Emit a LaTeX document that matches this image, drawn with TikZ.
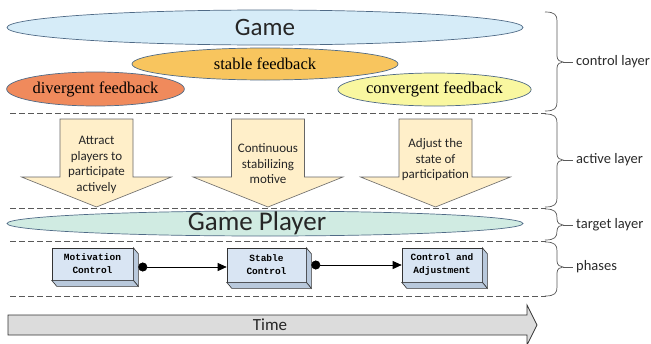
\documentclass[tikz,border=0pt]{standalone}
\usepackage{fontspec}
\setmainfont{Liberation Serif}
\newfontfamily\calfont{Carlito}
\newfontfamily\monofont{Liberation Mono}
\usetikzlibrary{shapes.geometric,arrows.meta,calc}
\definecolor{gameblue}{HTML}{D6ECF8}
\definecolor{stableor}{HTML}{F8C55E}
\definecolor{divor}{HTML}{F08A5C}
\definecolor{convy}{HTML}{F9F7A0}
\definecolor{arrowfill}{HTML}{FFEFC9}
\definecolor{playerg}{HTML}{D0EBE2}
\definecolor{boxfront}{HTML}{D9E5F3}
\definecolor{boxside}{HTML}{B9C9DC}
\definecolor{timegray}{HTML}{DCDCDC}
\definecolor{edgeblue}{HTML}{4F6A86}
\definecolor{labelgray}{HTML}{2A2A2A}
\tikzset{
  ell/.style={ellipse, draw=edgeblue, line width=0.7pt, inner sep=0pt},
  blockarrow/.style={draw=gray!80!black, fill=arrowfill, line width=0.6pt},
  arrowtext/.style={align=center, font=\calfont\fontsize{13}{15.5}\selectfont, text=black!85},
  sepline/.style={dashed, dash pattern=on 6pt off 3pt, draw=gray!70!black, line width=0.7pt},
  bracestyle/.style={draw=gray!70!black, line width=0.7pt},
  layerlabel/.style={anchor=west, font=\calfont\fontsize{14.5}{16}\selectfont, text=labelgray, inner sep=0pt},
  phasebox/.style={draw=black!80, fill=boxfront, line width=0.6pt, align=center, inner sep=0pt,
     font=\monofont\bfseries\fontsize{9.5}{13}\selectfont},
  boxdepth/.style={draw=black!80, fill=boxside, line width=0.6pt},
  conn/.style={line width=0.7pt, {Circle[length=9pt]}-{Triangle[length=9pt,width=8pt]}}
}
\begin{document}
\begin{tikzpicture}[x=1pt,y=-1pt]
\useasboundingbox (0,0) rectangle (651,343);
% control layer ellipses
\node[ell, fill=gameblue, minimum width=516pt, minimum height=35pt] (game) at (265,27.5) {};
\node[font=\calfont\fontsize{25}{28}\selectfont, text=black!85] (gamet) at (265,27) {Game};
\node[ell, fill=stableor, minimum width=266pt, minimum height=32pt,
      font=\fontsize{16.5}{18}\selectfont] (stable) at (265,64) {stable feedback};
\node[ell, fill=divor, minimum width=177pt, minimum height=34pt,
      font=\fontsize{16.5}{18}\selectfont] (div) at (95.5,89) {divergent feedback};
\node[ell, fill=convy, minimum width=177pt, minimum height=33pt,
      font=\fontsize{16.5}{18}\selectfont] (conv) at (434.5,89.5) {convergent feedback};
% separators
\draw[sepline] (10,113) -- (546,113);
\draw[sepline] (10,208) -- (546,208);
\draw[sepline] (10,241) -- (546,241);
\draw[sepline] (10,296) -- (546,296);
% block arrows
\foreach \cx/\nm in {96.5/a1, 268/a2, 435.5/a3}{
  \draw[blockarrow] (\cx-36.5,119) -- (\cx+36.5,119) -- (\cx+36.5,177) -- (\cx+75,177)
     -- (\cx,207) -- (\cx-75,177) -- (\cx-36.5,177) -- cycle;
}
\node[arrowtext] (t1) at (96.5,165) {Attract\\players to\\participate\\actively};
\node[arrowtext] (t2) at (268,164) {Continuous\\stabilizing\\motive};
\node[arrowtext] (t3) at (435.5,160) {Adjust the\\state of\\participation};
% game player
\node[ell, fill=playerg, minimum width=516pt, minimum height=25pt] (player) at (265,223.5) {};
\node[font=\calfont\fontsize{27}{30}\selectfont, text=black!85] (playert) at (257,223) {Game Player};
% phase boxes
\node[phasebox, minimum width=81pt, minimum height=32pt] (p1) at (92.5,264) {Motivation\\Control};
\node[phasebox, minimum width=79pt, minimum height=34pt] (p2) at (266.5,265) {Stable\\Control};
\node[phasebox, minimum width=80pt, minimum height=34pt] (p3) at (442,265) {Control and\\Adjustment};
\foreach \p in {p1,p2,p3}{
  \draw[boxdepth] (\p.north east) -- ++(5,6) -- ($(\p.south east)+(5,6)$) -- (\p.south east) -- cycle;
  \draw[boxdepth] (\p.south west) -- ++(5,6) -- ($(\p.south east)+(5,6)$) -- (\p.south east) -- cycle;
}
\draw[conn] ($(p1.east)+(5,3)$) -- ($(p2.west)+(0,2)$);
\draw[conn] ($(p2.east)+(5,0)$) -- ($(p3.west)+(0,0)$);
% braces
\foreach \ya/\yb/\ym/\nm in {12/111/62/b1, 114/207/160/b2, 209/240/225/b3, 242/296/267/b4}{
  \draw[bracestyle] (545,\ya) .. controls (555,\ya) and (557,\ya+3) .. (557,\ya+9)
     -- (557,\ym-6) .. controls (557,\ym-2) and (560,\ym) .. (563,\ym)
     .. controls (560,\ym) and (557,\ym+2) .. (557,\ym+6)
     -- (557,\yb-9) .. controls (557,\yb-3) and (555,\yb) .. (545,\yb);
  \draw[bracestyle] (563,\ym) -- (573,\ym) coordinate (\nm);
}
\node[layerlabel] (l1) at ($(b1)+(3,0)$) {control layer};
\node[layerlabel] (l2) at ($(b2)+(3,0)$) {active layer};
\node[layerlabel] (l3) at ($(b3)+(3,0)$) {target layer};
\node[layerlabel] (l4) at ($(b4)+(3,0)$) {phases};
% time arrow
\draw[fill=timegray, draw=black!80, line width=0.7pt] (8,315) -- (527,315) -- (527,305) -- (537,325)
   -- (527,345) -- (527,335) -- (8,335) -- cycle;
\node[font=\calfont\fontsize{17}{19}\selectfont, text=black!85] (time) at (270,325) {Time};
\end{tikzpicture}
\end{document}
